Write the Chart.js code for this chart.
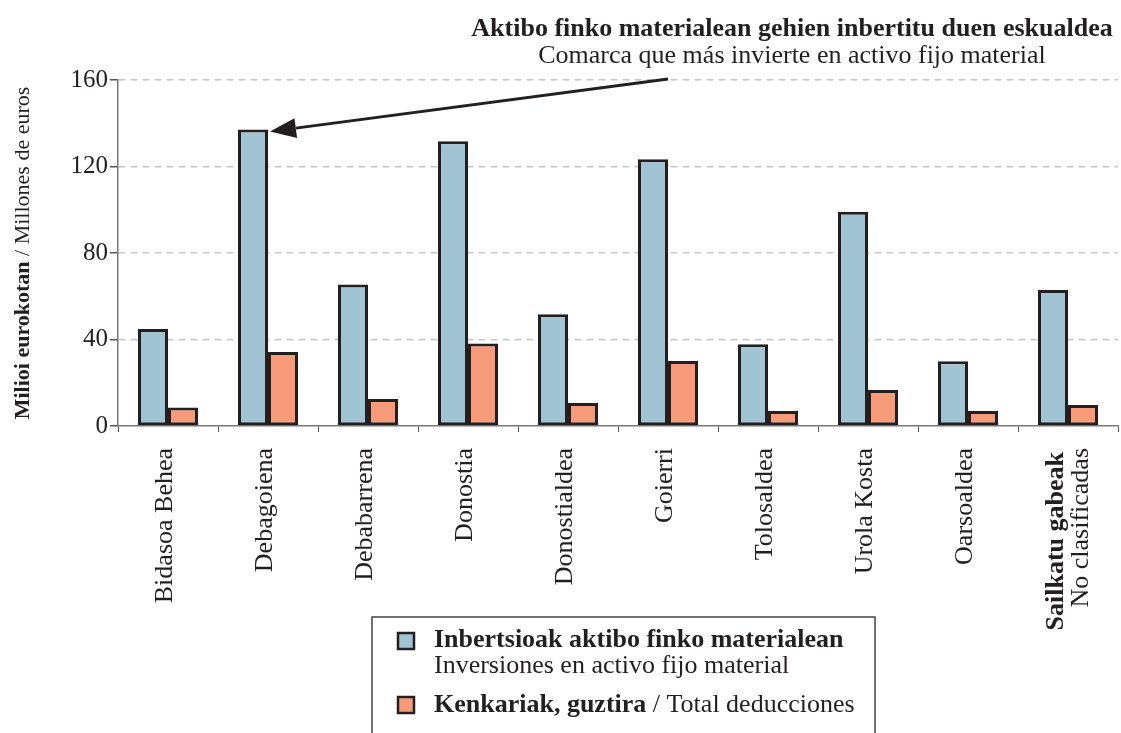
<!DOCTYPE html>
<html>
<head>
<meta charset="utf-8">
<script src="https://cdn.jsdelivr.net/npm/chart.js@4/dist/chart.umd.min.js"></script>
<style>
  html, body { margin: 0; padding: 0; background: #fff; }
  #wrap { width: 1121px; height: 733px; position: relative; }
</style>
</head>
<body>
<div id="wrap"><canvas id="chart" width="1121" height="733"></canvas></div>
<script>
// chart data
const comarcas = ['Bidasoa Behea', 'Debagoiena', 'Debabarrena', 'Donostia', 'Donostialdea',
                  'Goierri', 'Tolosaldea', 'Urola Kosta', 'Oarsoaldea', 'Sailkatu gabeak'];
const comarcasSub = ['', '', '', '', '', '', '', '', '', 'No clasificadas'];
const inversiones = [44.8, 137.1, 65.4, 131.7, 51.7, 123.3, 37.8, 99.1, 30.0, 62.9];
const deducciones = [8.5, 34.2, 12.5, 38.1, 10.6, 30.1, 6.9, 16.6, 6.9, 9.7];
const yTicks = [0, 40, 80, 120, 160];

const ink = '#231f20';
const serif = '"Liberation Serif", "DejaVu Serif", serif';
const blue = '#a0c4d3';
const orange = '#f69a7a';

// draws the rotated category labels, the axis title, the heading, the arrow and the legend
const extras = {
    id: 'extras',
    afterDraw(chart) {
        const ctx = chart.ctx;
        const x = chart.scales.x;
        const area = chart.chartArea;
        ctx.save();
        ctx.fillStyle = ink;

        // category labels
        comarcas.forEach((name, i) => {
            const cx = x.getPixelForValue(i);
            ctx.save();
            ctx.translate(cx, area.bottom + 22);
            ctx.rotate(-Math.PI / 2);
            ctx.textAlign = 'right';
            ctx.textBaseline = 'middle';
            if (comarcasSub[i]) {
                ctx.font = 'bold 26px ' + serif;
                ctx.fillText(name, -4, -12);
                ctx.font = '26px ' + serif;
                ctx.fillText(comarcasSub[i], 0, 13);
            } else {
                ctx.font = '26px ' + serif;
                ctx.fillText(name, 0, -3);
            }
            ctx.restore();
        });

        // y axis title
        ctx.save();
        ctx.translate(23, (area.top + area.bottom) / 2);
        ctx.rotate(-Math.PI / 2);
        ctx.textBaseline = 'middle';
        const t1 = 'Milioi eurokotan';
        const t2 = ' / Millones de euros';
        ctx.font = 'bold 22px ' + serif;
        const w1 = ctx.measureText(t1).width;
        ctx.font = '22px ' + serif;
        const w2 = ctx.measureText(t2).width;
        const sx = -(w1 + w2) / 2;
        ctx.textAlign = 'left';
        ctx.font = 'bold 22px ' + serif;
        ctx.fillText(t1, sx, 0);
        ctx.font = '22px ' + serif;
        ctx.fillText(t2, sx + w1, 0);
        ctx.restore();

        // heading
        ctx.textAlign = 'center';
        ctx.textBaseline = 'alphabetic';
        ctx.font = 'bold 26px ' + serif;
        ctx.fillText('Aktibo finko materialean gehien inbertitu duen eskualdea', 792, 36);
        ctx.font = '26px ' + serif;
        ctx.fillText('Comarca que más invierte en activo fijo material', 792, 63);

        // arrow pointing to the highest investment bar
        const bars = chart.getDatasetMeta(0).data;
        let top = 0;
        inversiones.forEach((v, i) => { if (v > inversiones[top]) top = i; });
        const bar = bars[top];
        const tipX = bar.x + bar.width / 2 + 2;
        const tipY = bar.y + 2;
        const tailX = 668, tailY = 79;
        const ang = Math.atan2(tipY - tailY, tipX - tailX);
        const headLen = 26, headW = 10;
        const bx = tipX - headLen * Math.cos(ang);
        const by = tipY - headLen * Math.sin(ang);
        ctx.strokeStyle = ink;
        ctx.lineWidth = 3;
        ctx.beginPath();
        ctx.moveTo(tailX, tailY);
        ctx.lineTo(bx, by);
        ctx.stroke();
        ctx.beginPath();
        ctx.moveTo(tipX, tipY);
        ctx.lineTo(bx + headW * Math.sin(ang), by - headW * Math.cos(ang));
        ctx.lineTo(bx - headW * Math.sin(ang), by + headW * Math.cos(ang));
        ctx.closePath();
        ctx.fill();

        // legend box
        ctx.strokeStyle = '#444';
        ctx.lineWidth = 1.5;
        ctx.beginPath();
        ctx.moveTo(372, 740);
        ctx.lineTo(372, 617);
        ctx.lineTo(875, 617);
        ctx.lineTo(875, 740);
        ctx.stroke();

        const items = [
            { color: blue, y: 647, sq: 641, bold: 'Inbertsioak aktibo finko materialean', normal: '', sub: 'Inversiones en activo fijo material' },
            { color: orange, y: 712, sq: 705, bold: 'Kenkariak, guztira', normal: ' / Total deducciones', sub: '' }
        ];
        ctx.textAlign = 'left';
        ctx.textBaseline = 'alphabetic';
        items.forEach(it => {
            ctx.fillStyle = it.color;
            ctx.fillRect(398, it.sq - 8, 16, 16);
            ctx.strokeStyle = ink;
            ctx.lineWidth = 2.5;
            ctx.strokeRect(398, it.sq - 8, 16, 16);
            ctx.fillStyle = ink;
            ctx.font = 'bold 26px ' + serif;
            ctx.fillText(it.bold, 434, it.y);
            const bw = ctx.measureText(it.bold).width;
            ctx.font = '26px ' + serif;
            if (it.normal) ctx.fillText(it.normal, 434 + bw, it.y);
            if (it.sub) ctx.fillText(it.sub, 434, it.y + 26);
        });

        ctx.restore();
    }
};

new Chart(document.getElementById('chart'), {
    type: 'bar',
    data: {
        labels: comarcas,
        datasets: [{
            label: 'Inbertsioak aktibo finko materialean',
            data: inversiones,
            backgroundColor: blue,
            borderColor: ink,
            borderWidth: 3,
            borderSkipped: false,
            barPercentage: 1.0,
            categoryPercentage: 0.6,
        }, {
            label: 'Kenkariak, guztira',
            data: deducciones,
            backgroundColor: orange,
            borderColor: ink,
            borderWidth: 3,
            borderSkipped: false,
            barPercentage: 1.0,
            categoryPercentage: 0.6,
        }],
    },
    options: {
        responsive: false,
        animation: false,
        devicePixelRatio: 1,
        layout: { padding: { top: 80, right: 3, left: 0, bottom: 0 } },
        plugins: {
            legend: { display: false },
            title: { display: false },
            tooltip: { enabled: false },
        },
        scales: {
            x: {
                grid: {
                    offset: true,
                    drawOnChartArea: false,
                    drawTicks: true,
                    tickLength: 6,
                    color: '#555',
                },
                border: { color: '#777', width: 1.5 },
                ticks: { display: false },
                afterFit: (scale) => { scale.height = 307; },
            },
            y: {
                min: 0,
                max: 160,
                afterBuildTicks: (scale) => { scale.ticks = yTicks.map(v => ({ value: v })); },
                grid: {
                    color: (c) => c.tick && c.tick.value === 0 ? 'rgba(0,0,0,0)' : '#c8c8c8',
                    tickColor: '#555',
                    tickLength: 8,
                    tickBorderDash: [],
                    lineWidth: 1.5,
                },
                border: { color: '#777', width: 1.5, dash: [7, 5] },
                ticks: {
                    color: ink,
                    font: { family: serif, size: 25 },
                    padding: 2,
                },
                afterFit: (scale) => { scale.width = 118; },
            },
        },
    },
    plugins: [extras],
});
</script>
</body>
</html>
